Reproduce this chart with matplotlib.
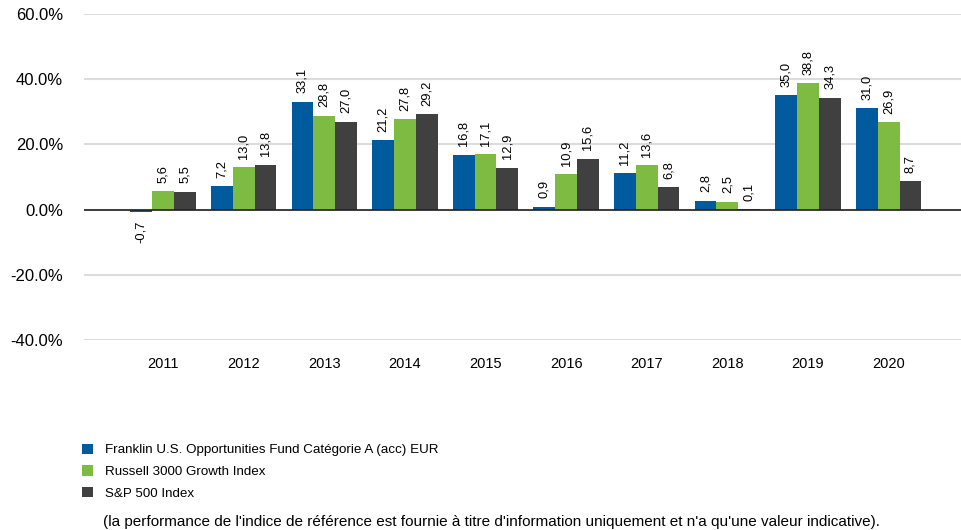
import numpy as np
import matplotlib.pyplot as plt

plt.rcParams['font.family'] = ['Liberation Sans', 'DejaVu Sans']

years = ['2011', '2012', '2013', '2014', '2015', '2016', '2017', '2018', '2019', '2020']
franklin = [-0.7, 7.2, 33.1, 21.2, 16.8, 0.9, 11.2, 2.8, 35.0, 31.0]
russell = [5.6, 13.0, 28.8, 27.8, 17.1, 10.9, 13.6, 2.5, 38.8, 26.9]
sp500 = [5.5, 13.8, 27.0, 29.2, 12.9, 15.6, 6.8, 0.1, 34.3, 8.7]

series_names = ['Franklin U.S. Opportunities Fund Catégorie A (acc) EUR',
                'Russell 3000 Growth Index',
                'S&P 500 Index']
colors = ['#005a9e', '#7dbb42', '#404040']
footnote = ("(la performance de l'indice de référence est fournie à titre "
            "d'information uniquement et n'a qu'une valeur indicative).")

fig = plt.figure(figsize=(9.62, 5.30), dpi=100)
ax = fig.add_axes([0.0873, 0.358, 0.9127, 0.616])

x = np.arange(len(years))
w = 0.27
handles = []
for i, (vals, c) in enumerate(zip([franklin, russell, sp500], colors)):
    pos = x + (i - 1) * w
    bars = ax.bar(pos, vals, width=w, color=c, zorder=3)
    handles.append(bars)
    # value labels, comma decimal, rotated
    for xp, v in zip(pos, vals):
        label = f'{v:.1f}'.replace('.', ',')
        if v >= 0:
            ax.annotate(label, (xp, v), xytext=(0, 6), textcoords='offset points',
                        rotation=90, ha='center', va='bottom', fontsize=9.3)
        else:
            ax.annotate(label, (xp, v), xytext=(0, -6), textcoords='offset points',
                        rotation=90, ha='center', va='top', fontsize=9.3)

ax.set_ylim(-40, 60)
ax.set_xlim(-0.98, 9.91)
ax.set_yticks([-40, -20, 0, 20, 40, 60])
ax.set_yticklabels([f'{t:.1f}%' for t in [-40, -20, 0, 20, 40, 60]], fontsize=12)
ax.set_xticks(x)
ax.set_xticklabels(years, fontsize=10.5)
ax.tick_params(length=0)
ax.tick_params(axis='y', pad=15)
ax.tick_params(axis='x', pad=12)
ax.grid(axis='y', color='#dcdcdc', lw=1.5, zorder=0)
ax.axhline(0, color='#222222', lw=1.2, zorder=4)
for s in ax.spines.values():
    s.set_visible(False)

fig.legend(handles, series_names, loc='upper left', bbox_to_anchor=(0.0855, 0.163),
           frameon=False, fontsize=9.6, handlelength=0.8, handleheight=0.8,
           handletextpad=0.9, labelspacing=0.68, borderaxespad=0, borderpad=0)
fig.text(0.107, 0.008, footnote, fontsize=11, ha='left', va='baseline')

fig.savefig('out.png', dpi=100)
